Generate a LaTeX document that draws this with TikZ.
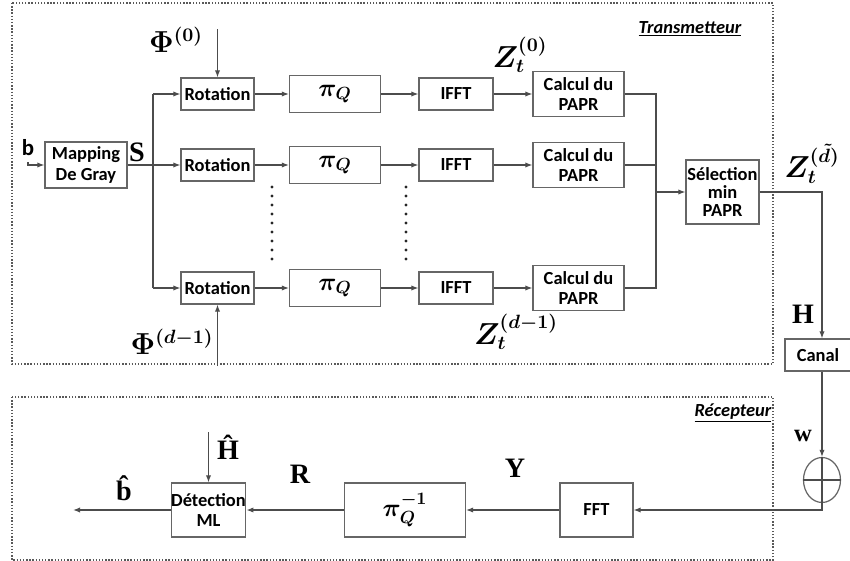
\documentclass[tikz,border=0pt]{standalone}
\usepackage{amsmath, amssymb}
\usepackage{fontspec}
\setmainfont{Carlito}
\newfontfamily\tnr{Liberation Serif}
\usetikzlibrary{positioning, arrows.meta, shapes.geometric, calc}

\begin{document}
\begin{tikzpicture}[
  x=0.02cm, y=-0.02cm,
  every node/.style={font=\bfseries\fontsize{10.5}{11.5}\selectfont},
  blk/.style 2 args={draw=black!60, line width=0.7pt, inner sep=0pt, align=center,
    minimum width=#1cm, minimum height=#2cm},
  lbl/.style={font=\tnr\bfseries\fontsize{16}{16}\selectfont},
  mth/.style={font=\fontsize{16}{16}\selectfont},
  pq/.style={font=\fontsize{14}{14}\selectfont},
  wire/.style={draw=black!70, line width=0.7pt},
  arr/.style={wire, -{Latex[length=4pt,width=3pt]}},
  frame/.style={draw=black!65, densely dotted, line width=0.8pt}
]
\useasboundingbox (0,0) rectangle (850,561);
\draw[frame] (12,3) rectangle (773,364);
\draw[frame] (12,397) rectangle (773,560);
\node[font=\bfseries\itshape\fontsize{10.5}{11}\selectfont] (tx) at (690,29) {\underline{Transmetteur}};
\node[font=\bfseries\itshape\fontsize{10.5}{11}\selectfont] (rx) at (733,413) {\underline{Récepteur}};

\node[blk={1.64}{0.92}] (map) at (86,165) {Mapping\\De Gray};
\node[font=\bfseries\fontsize{13}{13}\selectfont] (lb) at (28,148) {b};
\draw[arr] (lb.south) |- (map.west);
\node[lbl] (ls) at (137,152) {S};
\coordinate (spl) at (153,165);
\coordinate (mrg) at (656,192);
\draw[wire] (map.east) -- (spl);
\draw[wire] (153,94) -- (153,288);
\foreach \r/\y in {0/94,1/165,2/288} {
  \node[blk={1.46}{0.64}] (rot\r) at (217.5,\y) {Rotation};
  \node[blk={1.82}{0.74}, pq] (pi\r) at (335,\y) {$\boldsymbol{\pi_Q}$};
  \node[blk={1.48}{0.64}] (ifft\r) at (456,\y) {IFFT};
  \node[blk={1.82}{0.9}] (papr\r) at (578.5,\y) {Calcul du\\PAPR};
  \draw[arr] (spl |- rot\r) -- (rot\r);
  \draw[arr] (rot\r) -- (pi\r);
  \draw[arr] (pi\r) -- (ifft\r);
  \draw[arr] (ifft\r) -- (papr\r);
  \draw[wire] (papr\r.east) -| (mrg);
}
\foreach \x in {272,406}
  \foreach \k in {0,...,8}
    \fill[black!85] (\x,187+9*\k) circle (0.032cm);

\node[mth] (phi0) at (176,40) {$\boldsymbol{\Phi^{(0)}}$};
\coordinate (phi0in) at (217.5,29);
\draw[arr] (phi0in) -- (rot0);
\node[mth] (phid) at (172,342) {$\boldsymbol{\Phi^{(d-1)}}$};
\coordinate (phidin) at (217.5,366);
\draw[arr] (phidin) -- (rot2);
\node[mth] (z0) at (520,55) {$\boldsymbol{Z_t^{(0)}}$};
\node[mth] (zd) at (516,332) {$\boldsymbol{Z_t^{(d-1)}}$};

\node[blk={1.46}{1.28}, font=\bfseries\fontsize{10.5}{10.5}\selectfont] (sel) at (722.5,192) {Sélection\\min\\PAPR};
\draw[arr] (mrg) -- (sel);
\node[mth] (zs) at (812,164) {$\boldsymbol{Z_t^{(\tilde{d})}}$};
\coordinate (cx) at (822,192);
\node[blk={1.32}{0.64}] (can) at (818,355) {Canal};
\draw[arr] (sel.east) -- (cx) -- (cx |- can.north);
\node[lbl] (lh) at (803,314) {H};

\node[blk={1.46}{1.08}] (fft) at (596.5,510) {FFT};
\node[blk={2.42}{1.08}, pq] (pinv) at (405,510) {$\boldsymbol{\pi_Q^{-1}}$};
\node[blk={1.46}{1.08}] (det) at (208.5,510) {Détection\\ML};
\node[draw=black!60, line width=0.7pt, ellipse, minimum width=0.74cm, minimum height=0.9cm, inner sep=0pt] (add) at (822,480) {};
\draw[wire] (add.north) -- (add.south) (add.west) -- (add.east);
\draw[arr] (cx |- can.south) -- (add.north);
\node[lbl, font=\tnr\bfseries\fontsize{14}{14}\selectfont] (lw) at (803,436) {w};
\draw[arr] (add.south) |- (fft);
\draw[arr] (fft) -- (pinv);
\draw[arr] (pinv) -- (det);
\node[lbl] (ly) at (515,468) {Y};
\node[lbl] (lr) at (300,474) {R};
\node[lbl] (lhh) at (228,447) {\^{H}};
\coordinate (hin) at (208.5,432);
\draw[arr] (hin) -- (det);
\node[lbl] (lbh) at (124,488) {\^{b}};
\coordinate (bout) at (73,510);
\draw[arr] (det) -- (bout);
\end{tikzpicture}
\end{document}
